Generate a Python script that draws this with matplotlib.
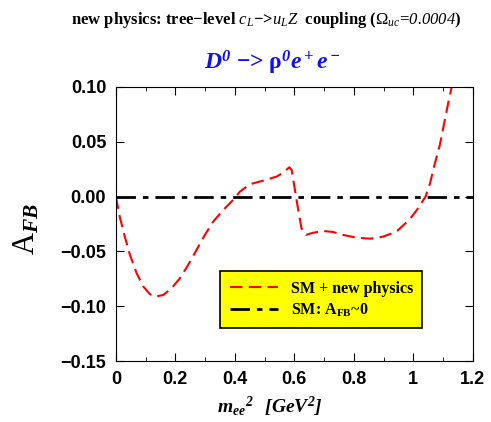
import matplotlib.pyplot as plt
from matplotlib.ticker import MultipleLocator

plt.rcParams['mathtext.fontset'] = 'custom'
plt.rcParams['mathtext.rm'] = 'Liberation Serif'
plt.rcParams['mathtext.it'] = 'Liberation Serif:italic'
plt.rcParams['mathtext.bf'] = 'Liberation Serif:bold'
plt.rcParams['mathtext.sf'] = 'Liberation Serif:italic'
plt.rcParams['mathtext.cal'] = 'Liberation Serif:italic:bold'

# A_FB
m2 = [0.0, 0.013, 0.030, 0.047, 0.070, 0.092, 0.114, 0.131, 0.159, 0.187,
      0.215, 0.243, 0.271, 0.299, 0.327, 0.361, 0.394, 0.417, 0.450, 0.495,
      0.540, 0.562, 0.583, 0.591, 0.602, 0.613, 0.624, 0.639, 0.663, 0.697,
      0.730, 0.764, 0.809, 0.854, 0.898, 0.943, 0.986, 1.016, 1.041, 1.056,
      1.067, 1.078, 1.089, 1.106, 1.117, 1.128, 1.131]
afb = [0.0, -0.0183, -0.0366, -0.053, -0.070, -0.082, -0.0889, -0.0913, -0.0898, -0.0837,
       -0.0746, -0.0624, -0.0487, -0.035, -0.0229, -0.0122, -0.0031, 0.0045, 0.0112, 0.0145,
       0.0182, 0.0218, 0.0267, 0.0243, 0.006, -0.0122, -0.029, -0.035, -0.033, -0.0314,
       -0.0323, -0.035, -0.0375, -0.0384, -0.0366, -0.032, -0.0213, -0.0107, 0.0, 0.012,
       0.0243, 0.036, 0.047, 0.070, 0.085, 0.0988, 0.102]
sm_x = [0.0, 1.2]
sm_y = [0.0, 0.0]

fig = plt.figure(figsize=(4.91, 4.22), dpi=100)
ax = fig.add_axes([0.236, 0.1445, 0.727, 0.6495])

ax.plot(m2, afb, color='red', ls=(0, (6, 3)), lw=1.5, label='SM + new physics')
ax.plot(sm_x, sm_y, color='black', ls=(0, (7, 2.5, 2, 2.5)), lw=2,
        label='SM: A$_{\\mathbf{FB}}$~0')

ax.set_xlim(0, 1.2)
ax.set_ylim(-0.15, 0.10)
ax.set_xticks([0, 0.2, 0.4, 0.6, 0.8, 1.0, 1.2])
ax.set_xticklabels(['0', '0.2', '0.4', '0.6', '0.8', '1', '1.2'])
ax.xaxis.set_minor_locator(MultipleLocator(0.1))
ax.set_yticks([-0.15, -0.10, -0.05, 0.0, 0.05, 0.10])
ax.set_yticklabels(['\u22120.15', '\u22120.10', '\u22120.05', '0.00', '0.05', '0.10'])
ax.tick_params(which='both', direction='in', top=True, right=True)
ax.tick_params(which='major', length=6, labelsize=13, pad=7)
ax.tick_params(which='minor', length=3)
for lab in ax.get_xticklabels() + ax.get_yticklabels():
    lab.set_fontfamily('Liberation Sans')
    lab.set_fontweight('bold')

fig.text(0.55, 0.035, '$\\mathcal{m_{ee}}^{\\mathcal{2}}$  $\\mathcal{[GeV^2]}$', fontsize=14,
         ha='center', va='center')
fig.text(0.055, 0.457, 'A$_{\\mathcal{FB}}$', rotation=90, fontsize=22,
         family='Liberation Serif', ha='center', va='center')

fig.text(0.542, 0.952,
         'new physics: tree\u2212level $c_L$\u2212>$u_L Z$  coupling ($\\Omega_{uc}$=$\\mathsf{0.0004}$)',
         ha='center', va='center', fontsize=12, family='Liberation Serif', weight='bold')
fig.text(0.554, 0.851, '$\\mathcal{D^0}$ \u2212> \u03c1$^{\\mathcal{0}}$$\\mathcal{e^+e^-}$',
         ha='center', va='center', fontsize=17, family='Liberation Serif', weight='bold',
         color='#1010ee')

leg = ax.legend(loc='lower left', bbox_to_anchor=(0.27, 0.09), fancybox=False,
                framealpha=1, facecolor='yellow', edgecolor='black', handlelength=3.0,
                prop={'family': 'Liberation Serif', 'weight': 'bold', 'size': 11.5},
                borderpad=0.6, labelspacing=0.3)
leg.get_frame().set_linewidth(1.2)

fig.savefig('out.png', dpi=100)
